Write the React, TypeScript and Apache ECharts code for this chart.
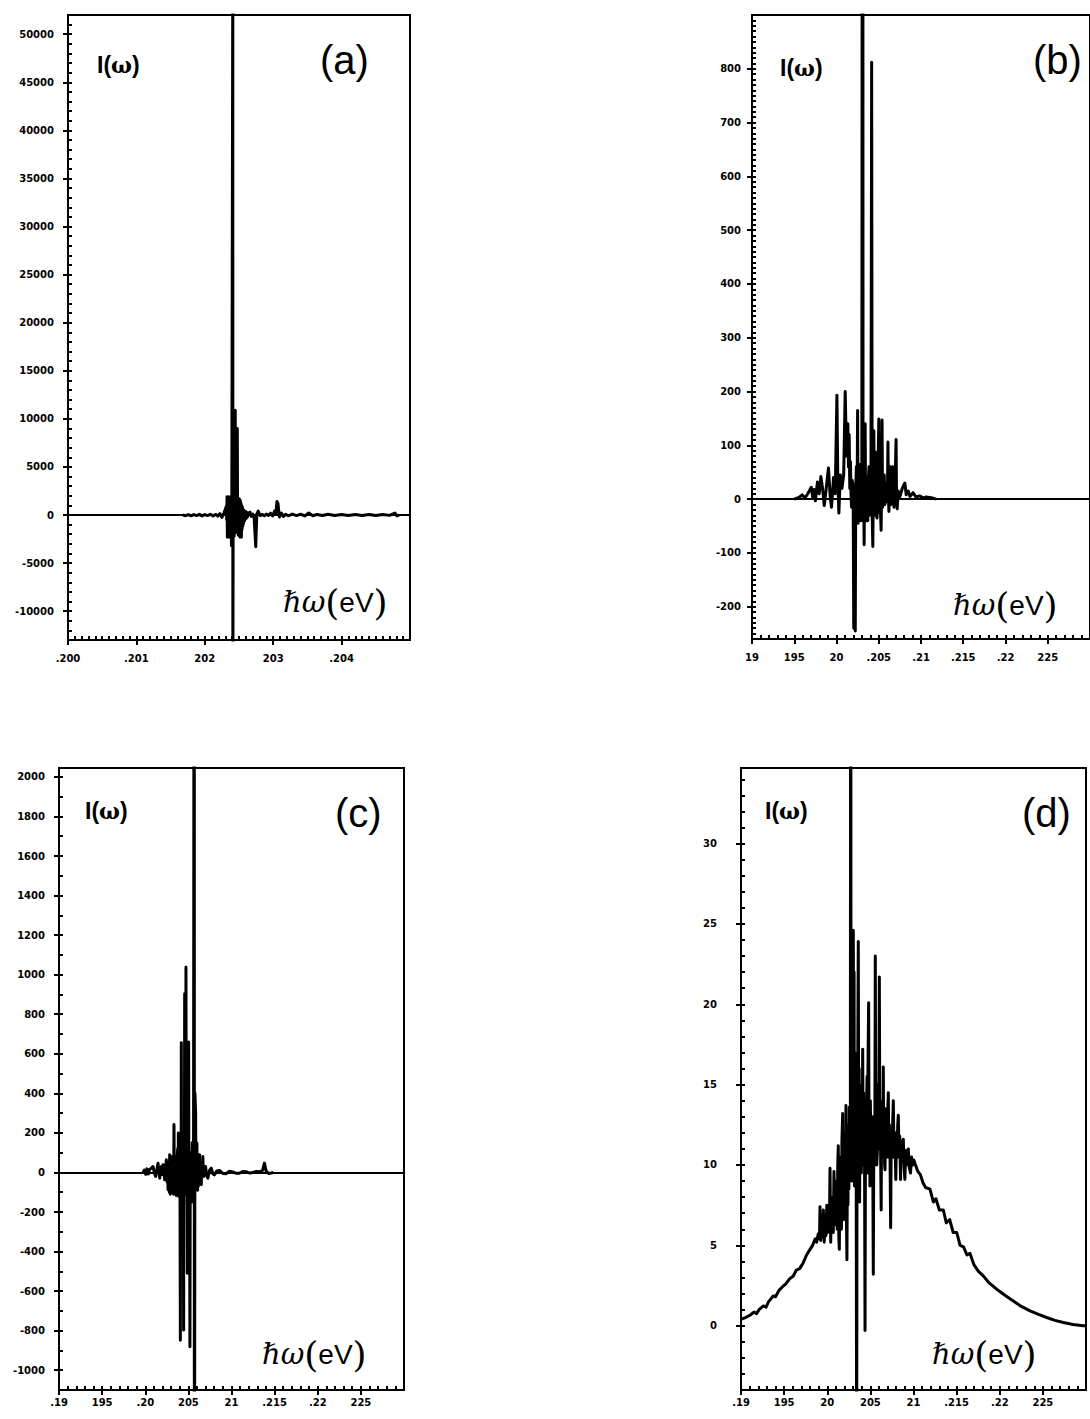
import React, { useEffect, useRef } from 'react';
import * as echarts from 'echarts';

// ---------- data (x = photon energy, y = intensity) ----------
const panelA: [number, number][] = [
  [0.20168, 0], [0.20172, -70], [0.20176, 50], [0.2018, -80], [0.20184, 40], [0.20188, -60],
  [0.20192, 70], [0.20196, -90], [0.202, 40], [0.20204, -60], [0.20208, 80], [0.20212, -100],
  [0.20216, 60], [0.20219, -120], [0.20222, 150], [0.20225, -250], [0.20228, 200], [0.202315, 900],
  [0.20232, -500], [0.202325, 1900], [0.20233, -2300], [0.202335, 1800], [0.20234, -1700], [0.202345, 1900],
  [0.20235, -2000], [0.202355, 1700], [0.20236, -2300], [0.202365, 1800], [0.20237, -2000], [0.202375, 1900],
  [0.20238, -2400], [0.202385, 1700], [0.20239, -3200], [0.202395, 1500], [0.20241, 60000], [0.20241, -20000],
  [0.202415, 1600], [0.20242, -2000], [0.202425, 1800], [0.20243, -2200], [0.202435, 1500], [0.202445, 10900],
  [0.20245, -1500], [0.202455, 1600], [0.20246, -1800], [0.202465, 1500], [0.202475, 9000], [0.20248, -1600],
  [0.202485, 1400], [0.20249, -2100], [0.202495, 1500], [0.2025, -1500], [0.202505, 1700], [0.20251, -1800],
  [0.202515, -2300], [0.20252, 1500], [0.202525, -1700], [0.20253, 1200], [0.202535, -2300], [0.20254, 1000],
  [0.202545, -1500], [0.20255, 800], [0.202555, -1200], [0.20256, 600], [0.202565, -900], [0.20257, 500],
  [0.20258, -600], [0.20259, 400], [0.2026, -400], [0.20261, 300], [0.20262, -250], [0.20264, 200],
  [0.20266, 300], [0.20268, -150], [0.2027, 100], [0.20272, -200], [0.202745, -3300], [0.20276, 100],
  [0.20278, 400], [0.20281, -60], [0.20284, 60], [0.20287, -80], [0.2029, 100], [0.20293, -60],
  [0.20296, 200], [0.20299, -100], [0.20302, 400], [0.20304, 200], [0.203055, 1400], [0.20307, 1200],
  [0.20309, -200], [0.20312, 200], [0.20315, -150], [0.20318, 80], [0.20322, -80], [0.20328, 100],
  [0.20334, -60], [0.2034, 80], [0.20346, -100], [0.20352, 200], [0.20358, -80], [0.20364, 60],
  [0.20372, -60], [0.2038, 80], [0.2039, -60], [0.204, 50], [0.2041, -60], [0.2042, 60],
  [0.2043, -50], [0.2044, 60], [0.2045, -60], [0.2046, 50], [0.2047, -40], [0.20478, 200],
  [0.20481, -100], [0.20484, 0],
];

const panelB: [number, number][] = [
  [0.195, 0], [0.19556, 3], [0.19594, 8], [0.19625, 2], [0.1966, 10], [0.19702, 22], [0.19718, 4],
  [0.19735, 18], [0.1975, -3], [0.19775, 32], [0.19795, 10], [0.19815, 42], [0.19835, 20], [0.19855, -12],
  [0.19875, 15], [0.19905, 58], [0.19925, 5], [0.19941, -15], [0.19965, 40], [0.19985, 10], [0.20005, 193],
  [0.20015, 40], [0.20028, -26], [0.20045, 45], [0.20065, 20], [0.20085, 45], [0.20103, 200], [0.20118, 80],
  [0.20134, 140], [0.20142, 60], [0.2015, 120], [0.20157, 20], [0.20165, 70], [0.20172, 10], [0.20178, -15],
  [0.20185, 35], [0.20192, 30], [0.20198, -20], [0.20204, -240], [0.20208, 10], [0.20212, -20], [0.20217, -30],
  [0.20222, -245], [0.20228, 20], [0.20235, 60], [0.20242, -40], [0.2025, 165], [0.20255, -45], [0.2026, -40],
  [0.20265, 40], [0.2027, 65], [0.20276, -35], [0.20282, 30], [0.20288, -40], [0.20294, 35], [0.203, 30],
  [0.2031, 3000], [0.20314, -40], [0.20318, -30], [0.20322, 35], [0.20327, -85], [0.20333, 40], [0.20339, 140],
  [0.20345, -35], [0.20352, 35], [0.20358, -40], [0.20364, 40], [0.2037, -40], [0.20377, 35], [0.20385, 60],
  [0.20392, -30], [0.204, -30], [0.20408, 40], [0.20416, 812], [0.20422, -30], [0.2043, -88], [0.20436, 40],
  [0.20442, 127], [0.20448, -30], [0.20455, -20], [0.20461, 40], [0.20468, 87], [0.20474, -30], [0.2048, -35],
  [0.2049, 40], [0.20501, 149], [0.20508, -25], [0.20515, 20], [0.2052, -20], [0.20528, -58], [0.20534, 35],
  [0.20539, 147], [0.20545, -15], [0.2055, -10], [0.20557, 30], [0.20565, 45], [0.20572, -10], [0.20578, -5],
  [0.20586, 25], [0.20595, 30], [0.20602, -5], [0.20609, 106], [0.20615, 5], [0.2062, -23], [0.20628, 15],
  [0.20636, 60], [0.20643, -10], [0.2065, 5], [0.20658, 15], [0.20665, 60], [0.20672, 5], [0.2068, -15],
  [0.20692, 20], [0.20705, 111], [0.2071, 10], [0.20718, -18], [0.2073, 15], [0.2075, 5], [0.20779, 20],
  [0.20809, 30], [0.20825, 8], [0.20848, 15], [0.2087, 5], [0.20906, 12], [0.2094, 4], [0.20983, 6],
  [0.2103, 2], [0.2106, 4], [0.21138, 2], [0.2118, 0],
];

const panelC: [number, number][] = [
  [0.19975, 0], [0.1999, 12], [0.20005, -10], [0.2002, 18], [0.20035, -8], [0.2005, 15], [0.20071, 22],
  [0.2009, 30], [0.20105, 0], [0.20121, -20], [0.20135, 15], [0.20148, 47], [0.2016, 5], [0.20168, -29],
  [0.2018, 20], [0.20187, 30], [0.202, -10], [0.20206, 39], [0.20218, 0], [0.20225, -37], [0.20235, 20],
  [0.20245, 64], [0.2025, -30], [0.20255, -50], [0.2026, 40], [0.20264, -88], [0.2027, 50], [0.20275, 30],
  [0.20279, -100], [0.20283, 90], [0.20287, -80], [0.2029, -110], [0.20295, -60], [0.203, 70], [0.20305, 80],
  [0.2031, -100], [0.20314, -80], [0.2032, 70], [0.20325, 60], [0.20329, -110], [0.20333, 242], [0.20338, -90],
  [0.20343, -100], [0.20348, 80], [0.20353, 64], [0.20357, -110], [0.2036, -116], [0.20364, 80], [0.20368, -105],
  [0.20372, 90], [0.20376, 120], [0.2038, -110], [0.20384, 200], [0.20388, -100], [0.20391, -122], [0.20395, 90],
  [0.20399, 80], [0.20403, -110], [0.20407, -848], [0.2041, 80], [0.20413, 100], [0.20416, -100], [0.20418, 656],
  [0.20421, -100], [0.20424, -110], [0.20427, 90], [0.2043, 64], [0.20434, -110], [0.20438, -100], [0.20441, 80],
  [0.20445, -797], [0.20448, 90], [0.20451, 120], [0.20454, -100], [0.20457, 904], [0.2046, -90], [0.20464, -100],
  [0.20468, 90], [0.20472, 1039], [0.20476, -110], [0.2048, -100], [0.20484, 90], [0.20488, -510], [0.20491, 80],
  [0.20495, 90], [0.20499, -110], [0.20503, 659], [0.20506, -100], [0.2051, -110], [0.20514, 90], [0.20518, -881],
  [0.20522, 90], [0.20526, 100], [0.2053, -100], [0.20534, 80], [0.20538, -100], [0.20545, 150], [0.20552, -150],
  [0.2056, 120], [0.20569, 5000], [0.20569, -3000], [0.20576, 400], [0.20584, 300], [0.20588, -60], [0.20591, -80],
  [0.20595, 100], [0.20599, 149], [0.20603, -60], [0.20607, -90], [0.20611, 60], [0.20615, -71], [0.20618, 50],
  [0.20622, 60], [0.20626, -50], [0.2063, 90], [0.20635, -30], [0.2064, -40], [0.20645, 40], [0.2065, -62],
  [0.20655, 30], [0.2066, 40], [0.20664, -20], [0.20668, 81], [0.20674, -10], [0.2068, -20], [0.2069, 20],
  [0.20699, 30], [0.20712, -15], [0.20726, -29], [0.20745, 10], [0.20765, 22], [0.20785, -8], [0.20803, -12],
  [0.2083, 8], [0.20861, 10], [0.209, -5], [0.20939, -6], [0.20975, 6], [0.21015, 3], [0.2105, -4],
  [0.21092, -4], [0.2113, 5], [0.21169, 4], [0.2121, -3], [0.21246, 0], [0.2129, 5], [0.21324, 3],
  [0.2136, 10], [0.21382, 47], [0.21401, 8], [0.2143, -5], [0.21459, -3], [0.21486, 0],
];

const panelD: [number, number][] = [
  [0.19, 0.4], [0.1905, 0.5], [0.19104, 0.65], [0.1915, 0.85], [0.1918, 0.75], [0.1921, 1.0], [0.19259, 1.23],
  [0.1929, 1.15], [0.1932, 1.5], [0.19374, 1.85], [0.194, 1.8], [0.1944, 2.2], [0.1949, 2.47], [0.1952, 2.6],
  [0.1956, 2.9], [0.19606, 3.09], [0.1964, 3.45], [0.1968, 3.55], [0.19722, 3.92], [0.1976, 4.4], [0.198, 4.75],
  [0.1983, 5.0], [0.1986, 5.4], [0.19877, 5.2], [0.19895, 5.7], [0.1991, 5.4], [0.19916, 7.4], [0.19925, 5.3],
  [0.19935, 6.8], [0.19945, 5.5], [0.19955, 7.2], [0.19965, 5.2], [0.19975, 6.5], [0.19985, 5.6], [0.19995, 7.5],
  [0.20005, 5.8], [0.20015, 7.3], [0.20025, 6.0], [0.20032, 9.8], [0.2004, 5.2], [0.20048, 7.6], [0.20056, 6.0],
  [0.20064, 8.0], [0.2007, 5.8], [0.20078, 9.6], [0.20085, 6.6], [0.20092, 8.8], [0.201, 6.3], [0.20108, 9.0],
  [0.20115, 6.0], [0.20122, 10.0], [0.20128, 11.2], [0.20134, 5.5], [0.2014, 4.75], [0.20146, 9.0], [0.20152, 6.2],
  [0.20158, 10.5], [0.20164, 6.0], [0.2017, 11.5], [0.20179, 13.2], [0.20185, 7.0], [0.2019, 6.6], [0.20196, 11.0],
  [0.20202, 7.5], [0.20208, 12.0], [0.20213, 8.0], [0.20217, 13.7], [0.20222, 7.0], [0.20228, 4.1], [0.20234, 10.0],
  [0.2024, 7.5], [0.20246, 12.5], [0.20251, 8.5], [0.20256, 13.6], [0.20262, 9.0], [0.20268, 12.0], [0.20272, 60],
  [0.20276, 10.0], [0.20281, 16.0], [0.20286, 9.0], [0.20291, 18.0], [0.20296, 10.0], [0.20302, 24.6], [0.20307, 11.0],
  [0.20311, 22.0], [0.20315, 8.7], [0.2032, 17.0], [0.20325, 10.0], [0.2033, 15.0], [0.20336, 9.0], [0.20341, -10],
  [0.20346, 14.0], [0.2035, 10.0], [0.20355, 18.0], [0.2036, 23.9], [0.20365, 11.0], [0.2037, 16.0], [0.20375, 7.7],
  [0.2038, 15.0], [0.20385, 10.0], [0.2039, 14.0], [0.20395, 9.5], [0.204, 13.5], [0.20405, 11.0], [0.20411, 17.2],
  [0.20416, 10.0], [0.20421, 14.5], [0.20425, 10.0], [0.20431, 13.0], [0.20438, -0.3], [0.20444, 13.5], [0.2045, 10.5],
  [0.20456, 14.0], [0.20462, 15.5], [0.20467, 9.5], [0.20472, 16.0], [0.2048, 20.1], [0.20485, 10.0], [0.2049, 13.5],
  [0.20495, 8.7], [0.205, 14.0], [0.20505, 10.5], [0.2051, 12.5], [0.20516, 9.0], [0.20522, 13.0], [0.20528, 10.0],
  [0.20534, 3.2], [0.2054, 12.0], [0.20545, 12.5], [0.20551, 10.0], [0.20557, 23.0], [0.20563, 11.0], [0.20568, 14.0],
  [0.20574, 10.0], [0.2058, 10.75], [0.20585, 14.0], [0.2059, 15.0], [0.20596, 11.0], [0.20604, 21.7], [0.2061, 11.5],
  [0.20615, 14.0], [0.2062, 10.0], [0.20625, 7.2], [0.2063, 13.0], [0.20635, 10.5], [0.2064, 12.5], [0.20645, 10.5],
  [0.2065, 16.1], [0.20655, 10.5], [0.2066, 13.0], [0.20665, 10.0], [0.2067, 9.7], [0.20676, 13.5], [0.20682, 10.5],
  [0.2069, 13.0], [0.20696, 10.5], [0.20702, 13.5], [0.20708, 14.5], [0.20714, 10.5], [0.2072, 12.5], [0.20728, 10.5],
  [0.20735, 6.1], [0.20742, 12.0], [0.2075, 10.5], [0.20758, 12.5], [0.20766, 14.0], [0.20774, 10.5], [0.20782, 12.0],
  [0.2079, 10.3], [0.20795, 9.1], [0.20803, 12.0], [0.2081, 10.5], [0.20817, 12.5], [0.20824, 13.1], [0.20832, 10.5],
  [0.2084, 11.8], [0.2085, 9.1], [0.20858, 11.5], [0.20866, 10.3], [0.20874, 11.0], [0.20882, 11.6], [0.2089, 10.0],
  [0.209, 9.1], [0.2091, 10.9], [0.2092, 10.0], [0.2093, 10.8], [0.2094, 11.0], [0.2095, 9.9], [0.20965, 9.5],
  [0.20978, 10.5], [0.2099, 10.0], [0.21005, 10.3], [0.21017, 10.1], [0.2105, 9.6], [0.2108, 9.4], [0.2111, 8.9],
  [0.2114, 8.6], [0.21191, 8.5], [0.2123, 7.7], [0.2126, 7.9], [0.213, 7.2], [0.21346, 7.2], [0.2138, 6.4],
  [0.2142, 6.6], [0.2146, 5.8], [0.21501, 5.8], [0.2154, 5.0], [0.2158, 4.9], [0.2162, 4.4], [0.21655, 4.5],
  [0.217, 3.8], [0.2175, 3.4], [0.21809, 3.1], [0.2187, 2.7], [0.21965, 2.27], [0.2206, 1.9], [0.22157, 1.54],
  [0.2225, 1.2], [0.22351, 0.92], [0.2245, 0.7], [0.22544, 0.51], [0.2264, 0.33], [0.22737, 0.2], [0.2285, 0.08],
  [0.22969, 0.0], [0.23, 0.0],
];

// ---------- tick labels ----------
const aXTickLabels = ['.200', '.201', '202', '203', '.204'];
const bXTickLabels = ['19', '195', '20', '.205', '.21', '.215', '.22', '225'];
const cXTickLabels = ['.19', '195', '.20', '205', '21', '.215', '.22', '225'];
const dXTickLabels = ['.19', '195', '20', '205', '21', '.215', '.22', '225'];
const panelTags = ['(a)', '(b)', '(c)', '(d)'];

// ---------- axis ranges ----------
const panels = [
  { data: panelA, xLabels: aXTickLabels, xMin: 0.2, xMax: 0.205, xMajor: 0.001, xMinor: 0.0001,
    yMin: -13000, yMax: 52000, yMinor: 1000, yMajor: 5000, yLabelMin: -10000, yLabelMax: 50000, zeroLine: true },
  { data: panelB, xLabels: bXTickLabels, xMin: 0.19, xMax: 0.23, xMajor: 0.005, xMinor: 0.001,
    yMin: -260, yMax: 900, yMinor: 10, yMajor: 100, yLabelMin: -200, yLabelMax: 800, zeroLine: true },
  { data: panelC, xLabels: cXTickLabels, xMin: 0.19, xMax: 0.23, xMajor: 0.005, xMinor: 0.001,
    yMin: -1100, yMax: 2045, yMinor: 100, yMajor: 200, yLabelMin: -1000, yLabelMax: 2000, zeroLine: true },
  { data: panelD, xLabels: dXTickLabels, xMin: 0.19, xMax: 0.23, xMajor: 0.005, xMinor: 0.001,
    yMin: -4, yMax: 34.7, yMinor: 1, yMajor: 5, yLabelMin: 0, yLabelMax: 30, zeroLine: false },
];

// ---------- layout ----------
const layouts = [
  { grid: { left: 68, top: 15, width: 342, height: 625 }, xMargin: 13, yMargin: 14, iw: [97, 65], tag: [320, 60], hw: [283, 602] },
  { grid: { left: 752, top: 15, width: 345, height: 624 }, xMargin: 13, yMargin: 11, iw: [780, 68], tag: [1033, 60], hw: [953, 605] },
  { grid: { left: 59, top: 768, width: 345, height: 622 }, xMargin: 7, yMargin: 14, iw: [85, 811], tag: [335, 813], hw: [262, 1354] },
  { grid: { left: 741, top: 768, width: 345, height: 622 }, xMargin: 7, yMargin: 24, iw: [765, 811], tag: [1022, 813], hw: [932, 1354] },
];

const BLACK = '#000';
const tickFont = { color: BLACK, fontFamily: 'DejaVu Sans', fontWeight: 'bold' as const, fontSize: 10 };

function buildOption() {
  const grid: any[] = [];
  const xAxis: any[] = [];
  const yAxis: any[] = [];
  const series: any[] = [];
  const graphic: any[] = [];

  panels.forEach((p, i) => {
    const L = layouts[i];
    const g = L.grid;
    const yr = p.yMax - p.yMin;
    grid.push({ left: g.left, top: g.top, width: g.width, height: g.height, show: true,
      borderColor: BLACK, borderWidth: 2, backgroundColor: 'transparent' });
    const mainGrid = grid.length - 1;
    grid.push({ left: g.left, width: g.width,
      top: g.top + ((p.yMax - p.yLabelMax) / yr) * g.height,
      height: ((p.yLabelMax - p.yLabelMin) / yr) * g.height, show: false });
    const labelGrid = grid.length - 1;

    const xMainIdx = xAxis.length;
    xAxis.push({
      gridIndex: mainGrid, type: 'value', position: 'bottom', min: p.xMin, max: p.xMax, interval: p.xMajor,
      axisLine: { show: true, onZero: false, lineStyle: { color: BLACK, width: 2 } },
      axisTick: { show: true, inside: false, length: 5, lineStyle: { color: BLACK, width: 2 } },
      axisLabel: { show: true, margin: L.xMargin, ...tickFont, showMaxLabel: false,
        formatter: (v: number) => { const k = Math.round((v - p.xMin) / p.xMajor); return p.xLabels[k] ?? ''; } },
      splitLine: { show: false },
    });
    xAxis.push({
      gridIndex: mainGrid, type: 'value', position: 'bottom', min: p.xMin, max: p.xMax, interval: p.xMinor,
      axisLine: { show: false, onZero: false },
      axisTick: { show: true, inside: true, length: 4, lineStyle: { color: BLACK, width: 2 } },
      axisLabel: { show: false }, splitLine: { show: false },
    });
    xAxis.push({ gridIndex: labelGrid, type: 'value', show: false, min: p.xMin, max: p.xMax,
      axisLine: { onZero: false }, splitLine: { show: false } });

    const yMainIdx = yAxis.length;
    yAxis.push({
      gridIndex: mainGrid, type: 'value', position: 'left', min: p.yMin, max: p.yMax, interval: p.yMinor,
      axisLine: { show: true, onZero: false, lineStyle: { color: BLACK, width: 2 } },
      axisTick: { show: true, inside: true, length: 4, lineStyle: { color: BLACK, width: 2 } },
      axisLabel: { show: false }, splitLine: { show: false },
    });
    yAxis.push({
      gridIndex: labelGrid, type: 'value', position: 'left', min: p.yLabelMin, max: p.yLabelMax, interval: p.yMajor,
      axisLine: { show: false, onZero: false },
      axisTick: { show: true, inside: false, length: 5, lineStyle: { color: BLACK, width: 2 } },
      axisLabel: { show: true, margin: L.yMargin, ...tickFont, formatter: (v: number) => String(v) },
      splitLine: { show: false },
    });

    series.push({
      type: 'line', xAxisIndex: xMainIdx, yAxisIndex: yMainIdx, data: p.data,
      symbol: 'none', showSymbol: false, clip: true, silent: true,
      lineStyle: { color: BLACK, width: 3, join: 'round' },
      markLine: p.zeroLine ? {
        silent: true, symbol: ['none', 'none'], label: { show: false },
        lineStyle: { color: BLACK, width: 2, type: 'solid' }, data: [{ yAxis: 0 }],
      } : undefined,
    });

    graphic.push({
      type: 'text', x: L.iw[0], y: L.iw[1], z: 10,
      style: { text: '{r|I(}{w|ω}{r|)}', fill: BLACK, verticalAlign: 'middle', textVerticalAlign: 'middle',
        rich: {
          r: { fontFamily: 'Liberation Sans', fontWeight: 'bold', fontSize: 23, fill: BLACK },
          w: { fontFamily: 'DejaVu Serif', fontWeight: 'bold', fontSize: 22, fill: BLACK },
        } },
    });
    graphic.push({
      type: 'text', x: L.tag[0], y: L.tag[1], z: 10,
      style: { text: panelTags[i], fill: BLACK, font: '40px "Liberation Sans"',
        verticalAlign: 'middle', textVerticalAlign: 'middle' },
    });
    graphic.push({
      type: 'text', x: L.hw[0], y: L.hw[1], z: 10,
      style: { text: '{a|ℏω}{b|(}{c|eV}{b|)}', fill: BLACK, verticalAlign: 'middle', textVerticalAlign: 'middle',
        rich: {
          a: { fontFamily: 'DejaVu Serif', fontStyle: 'italic', fontSize: 29, fill: BLACK },
          b: { fontFamily: 'DejaVu Serif', fontSize: 36, fill: BLACK },
          c: { fontFamily: 'Liberation Sans', fontSize: 28, fill: BLACK },
        } },
    });
  });

  return { animation: false, backgroundColor: '#fff', grid, xAxis, yAxis, series, graphic };
}

export default function App() {
  const ref = useRef<HTMLDivElement>(null);
  useEffect(() => {
    if (!ref.current) return;
    const chart = echarts.init(ref.current, undefined, { renderer: 'svg' });
    chart.setOption(buildOption() as any);
    return () => chart.dispose();
  }, []);
  return (
    <div
      ref={ref}
      style={{ position: 'absolute', left: 0, top: 0, width: 1090, height: 1419, background: '#fff' }}
    />
  );
}
